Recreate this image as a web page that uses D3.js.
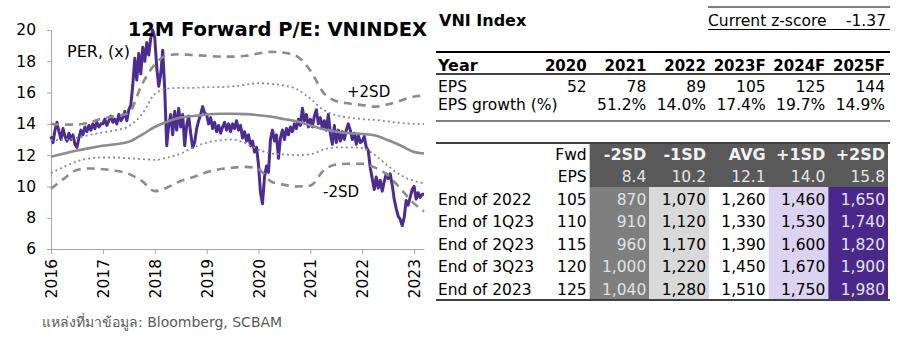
<!DOCTYPE html>
<html>
<head>
<meta charset="utf-8">
<script src="https://cdn.jsdelivr.net/npm/d3@7"></script>
<style>
  body { margin: 0; background: #fff; }
  svg text { font-family: "DejaVu Sans", Tahoma, sans-serif; }
</style>
</head>
<body>
<svg id="chart" width="900" height="340"></svg>
<script>
// ── Data: 12M forward P/E, roughly two readings per month ─────────────────
const per2016 = [13.2, 12.8, 13.6, 14.1, 13.5, 13.0, 13.7, 13.2, 12.9, 13.4, 13.0, 13.3, 12.7,
  12.5, 13.1, 13.6, 13.3, 13.8, 13.5, 13.9, 13.6, 14.0, 13.7, 14.1, 13.8, 14.0];
const per2017 = [14.0, 14.3, 13.9, 14.2, 14.5, 14.1, 14.3, 14.0, 14.6, 14.2, 14.4, 14.8, 14.2,
  14.9, 15.2, 16.5, 18.2, 16.8, 18.5, 17.2, 18.9, 18.0, 19.2, 18.4, 19.5, 20.0];
const per2018 = [19.5, 17.6, 16.4, 17.2, 18.7, 16.2, 12.6, 13.9, 14.6, 13.3, 14.8, 13.6, 15.0,
  13.8, 14.6, 12.6, 13.9, 14.5, 13.4, 12.5, 12.8, 13.7, 14.2, 14.6, 15.1, 14.7];
const per2019 = [14.6, 14.0, 14.4, 13.7, 14.1, 13.5, 13.9, 13.4, 13.8, 14.1, 13.6, 14.0, 13.5,
  14.0, 13.7, 14.2, 13.6, 13.9, 13.1, 13.5, 12.9, 13.3, 12.6, 12.9, 12.2, 12.5];
const per2020 = [11.4, 9.6, 8.9, 10.6, 11.3, 10.9, 13.0, 13.6, 12.9, 13.3, 11.8, 13.1, 13.6,
  13.0, 13.7, 13.3, 13.8, 13.5, 14.0, 13.7, 14.3, 13.9, 15.0, 14.2, 14.6, 13.8];
const per2021 = [14.3, 13.8, 14.5, 14.9, 14.0, 14.4, 13.7, 14.2, 13.6, 14.6, 13.4, 12.7, 13.9,
  12.8, 13.6, 12.9, 13.5, 13.0, 13.6, 14.0, 13.6, 13.0, 13.4, 12.7, 13.3, 12.8];
const per2022 = [12.9, 13.2, 12.5, 12.3, 11.2, 10.5, 9.8, 10.6, 9.9, 10.4, 9.7, 10.3, 10.8,
  10.5, 10.8, 10.1, 9.2, 8.6, 8.1, 7.9, 7.5, 8.0, 9.1, 8.8, 9.3, 9.8];
const per2023 = [10.0, 9.2, 9.6, 9.3, 9.5, 9.5];
const perYears = [
  [2016, per2016], [2017, per2017], [2018, per2018], [2019, per2019],
  [2020, per2020], [2021, per2021], [2022, per2022], [2023, per2023],
];

// ── Rolling mean and SD bands, quarterly ──────────────────────────────────
const bandDates = [2016, 2016.25, 2016.5, 2016.75, 2017, 2017.25, 2017.5, 2017.75,
  2018, 2018.25, 2018.5, 2018.75, 2019, 2019.25, 2019.5, 2019.75,
  2020, 2020.25, 2020.5, 2020.75, 2021, 2021.25, 2021.5, 2021.75,
  2022, 2022.25, 2022.5, 2022.75, 2023, 2023.19];
const avgPE = [11.9, 12.1, 12.3, 12.45, 12.6, 12.7, 12.85, 13.3, 13.8, 14.15, 14.4, 14.5,
  14.6, 14.65, 14.65, 14.62, 14.55, 14.45, 14.3, 14.15, 13.9, 13.65, 13.5, 13.4,
  13.35, 13.25, 12.95, 12.6, 12.2, 12.1];
const plus2SD = [14.0, 13.95, 13.95, 14.1, 14.35, 14.5, 14.7, 16.5, 17.8, 18.4, 18.45, 18.4,
  18.35, 18.3, 18.3, 18.35, 18.5, 18.6, 18.55, 18.3, 17.4, 16.0, 15.45, 15.3,
  15.2, 15.1, 15.25, 15.5, 15.75, 15.8];
const plus1SD = [12.95, 13.0, 13.1, 13.3, 13.45, 13.6, 13.85, 14.6, 15.9, 16.25, 16.3, 16.3,
  16.35, 16.35, 16.4, 16.5, 16.6, 16.55, 16.45, 16.2, 15.6, 14.9, 14.55, 14.4,
  14.3, 14.25, 14.15, 14.05, 14.0, 14.0];
const minus1SD = [10.85, 11.25, 11.6, 11.8, 11.85, 11.85, 11.8, 11.75, 11.7, 11.85, 12.1, 12.5,
  12.8, 12.95, 13.0, 12.75, 12.35, 12.1, 12.05, 12.0, 12.05, 12.35, 12.5, 12.5,
  12.45, 12.0, 11.3, 10.7, 10.35, 10.2];
const minus2SD = [9.85, 10.5, 11.05, 11.15, 11.1, 11.0, 10.8, 10.35, 9.7, 9.95, 10.35, 10.6,
  10.9, 11.1, 11.2, 11.25, 11.1, 10.3, 10.1, 10.0, 10.05, 11.0, 11.4, 11.45,
  11.45, 11.2, 10.7, 9.8, 8.9, 8.4];

const yTicks = [6, 8, 10, 12, 14, 16, 18, 20];
const xTicks = [2016, 2017, 2018, 2019, 2020, 2021, 2022, 2023];

// ── Tables ────────────────────────────────────────────────────────────────
const zScore = -1.37;
const years = ["2020", "2021", "2022", "2023F", "2024F", "2025F"];
const eps = [52, 78, 89, 105, 125, 144];
const epsGrowth = [null, 51.2, 14.0, 17.4, 19.7, 14.9];

const bandNames = ["-2SD", "-1SD", "AVG", "+1SD", "+2SD"];
const bandPE = [8.4, 10.2, 12.1, 14.0, 15.8];
const periods = ["End of 2022", "End of 1Q23", "End of 2Q23", "End of 3Q23", "End of 2023"];
const fwdEps = [105, 110, 115, 120, 125];
const targets = [
  [870, 1070, 1260, 1460, 1650],
  [910, 1120, 1330, 1530, 1740],
  [960, 1170, 1390, 1600, 1820],
  [1000, 1220, 1450, 1670, 1900],
  [1040, 1280, 1510, 1750, 1980],
];

// cell colours per band column
const CELL_FILL = ["#7f7f7f", "#d9d9d9", "#ffffff", "#dcd3f0", "#48288a"];
const CELL_TEXT = ["#e2e2e2", "#000", "#000", "#000", "#e8e3f4"];

const svg = d3.select("#chart");

// ── Chart ─────────────────────────────────────────────────────────────────
const x = d3.scaleLinear().domain([2016, 2023.19]).range([51, 424]);
const y = d3.scaleLinear().domain([6, 20]).range([249, 30]);

const perPoints = perYears.flatMap(([yr, vals]) =>
  vals.map((v, i) => ({ t: yr + i / 26, v })),
);

// axes
const xAxis = svg.append("g")
  .attr("transform", `translate(0,${y(6)})`)
  .call(d3.axisBottom(x).tickValues(xTicks).tickFormat(d3.format("d")).tickSize(5).tickSizeOuter(0));
xAxis.select(".domain").attr("stroke", "#a6a6a6");
xAxis.selectAll(".tick line").attr("stroke", "#a6a6a6");
xAxis.selectAll(".tick text")
  .attr("font-size", 15.5)
  .attr("fill", "#000")
  .attr("transform", "rotate(-90)")
  .attr("text-anchor", "end")
  .attr("x", -10)
  .attr("y", 0)
  .attr("dy", "0.36em");

const yAxis = svg.append("g")
  .attr("transform", `translate(${x(2016)},0)`)
  .call(d3.axisLeft(y).tickValues(yTicks).tickSize(4).tickSizeOuter(0));
yAxis.select(".domain").attr("stroke", "#a6a6a6");
yAxis.selectAll(".tick line").attr("stroke", "#a6a6a6");
yAxis.selectAll(".tick text").attr("font-size", 15.5).attr("fill", "#000").attr("x", -15);

// P/E line
const perLine = d3.line().x((d) => x(d.t)).y((d) => y(d.v));
svg.append("path")
  .datum(perPoints)
  .attr("fill", "none")
  .attr("stroke", "#4b2c91")
  .attr("stroke-width", 3)
  .attr("stroke-linejoin", "round")
  .attr("d", perLine);

// mean and SD bands on top
const bandLine = d3.line()
  .x((d, i) => x(bandDates[i]))
  .y((d) => y(d))
  .curve(d3.curveMonotoneX);

const bands = [
  { vals: plus2SD, width: 2.6, dash: "8,6" },
  { vals: minus2SD, width: 2.6, dash: "8,6" },
  { vals: plus1SD, width: 1.8, dash: "2,3" },
  { vals: minus1SD, width: 1.8, dash: "2,3" },
  { vals: avgPE, width: 2.6, dash: null },
];
bands.forEach((b) => {
  svg.append("path")
    .datum(b.vals)
    .attr("fill", "none")
    .attr("stroke", "#8c8c8c")
    .attr("stroke-width", b.width)
    .attr("stroke-dasharray", b.dash)
    .attr("d", bandLine);
});

// chart labels
svg.append("text").attr("x", 427).attr("y", 36).attr("text-anchor", "end")
  .attr("font-size", 19.5).attr("font-weight", "bold").text("12M Forward P/E: VNINDEX");
svg.append("text").attr("x", 67).attr("y", 57).attr("font-size", 16).text("PER, (x)");
svg.append("text").attr("x", 347).attr("y", 97).attr("font-size", 15).text("+2SD");
svg.append("text").attr("x", 323).attr("y", 197).attr("font-size", 15).text("-2SD");
svg.append("text").attr("x", 42).attr("y", 327).attr("font-size", 14).attr("fill", "#595959")
  .text("แหล่งที่มาข้อมูล: Bloomberg, SCBAM");

// ── Tables ────────────────────────────────────────────────────────────────
const FS = 15.5;
const fmt = d3.format(",");
const hline = (x1, x2, yy, w, c) =>
  svg.append("line").attr("x1", x1).attr("x2", x2).attr("y1", yy).attr("y2", yy)
    .attr("stroke", c).attr("stroke-width", w);

// title + z-score
svg.append("text").attr("x", 439).attr("y", 26).attr("font-size", 16).attr("font-weight", "bold")
  .text("VNI Index");
hline(708, 890, 7, 1.2, "#000");
hline(708, 890, 29.5, 1.2, "#000");
svg.append("text").attr("x", 708).attr("y", 26).attr("font-size", FS).text("Current z-score");
svg.append("text").attr("x", 886).attr("y", 26).attr("font-size", FS).attr("text-anchor", "end")
  .text(zScore.toFixed(2));

// EPS table
const col1 = d3.scaleBand().domain(years).range([530, 888]);
hline(436, 890, 52, 2.2, "#000");
hline(436, 890, 74, 1.6, "#000");
hline(436, 890, 121, 2.2, "#808080");
svg.append("text").attr("x", 438).attr("y", 71).attr("font-size", 16).attr("font-weight", "bold").text("Year");
svg.append("text").attr("x", 438).attr("y", 92).attr("font-size", FS).text("EPS");
svg.append("text").attr("x", 438).attr("y", 110).attr("font-size", FS).text("EPS growth (%)");
years.forEach((yr, i) => {
  const xr = col1(yr) + col1.bandwidth() - 3;
  svg.append("text").attr("x", xr).attr("y", 71).attr("text-anchor", "end")
    .attr("font-size", 15).attr("font-weight", "bold").text(yr);
  svg.append("text").attr("x", xr).attr("y", 92).attr("text-anchor", "end")
    .attr("font-size", FS).text(eps[i]);
  if (epsGrowth[i] != null) {
    svg.append("text").attr("x", xr).attr("y", 110).attr("text-anchor", "end")
      .attr("font-size", FS).text(epsGrowth[i].toFixed(1) + "%");
  }
});

// valuation table
const col2 = d3.scaleBand().domain(["Fwd"].concat(bandNames)).range([530, 888]);
const rows = d3.scaleBand().domain(periods).range([187, 300]);

svg.append("rect").attr("x", col2("-2SD")).attr("y", 144)
  .attr("width", 888 - col2("-2SD")).attr("height", 43).attr("fill", "#595959");
bandNames.forEach((b, j) => {
  svg.append("rect").attr("x", col2(b)).attr("y", 187)
    .attr("width", col2.bandwidth()).attr("height", 112).attr("fill", CELL_FILL[j]);
});
hline(436, 890, 143, 1.6, "#000");
hline(436, 890, 300, 1.6, "#000");

const rx = (k) => col2(k) + col2.bandwidth() - 3;
svg.append("text").attr("x", rx("Fwd")).attr("y", 160).attr("text-anchor", "end").attr("font-size", FS).text("Fwd");
svg.append("text").attr("x", rx("Fwd")).attr("y", 182).attr("text-anchor", "end").attr("font-size", FS).text("EPS");
bandNames.forEach((b, j) => {
  svg.append("text").attr("x", rx(b)).attr("y", 160).attr("text-anchor", "end")
    .attr("font-size", 16).attr("font-weight", "bold").attr("fill", "#f2f2f2").text(b);
  svg.append("text").attr("x", rx(b)).attr("y", 182).attr("text-anchor", "end")
    .attr("font-size", FS).attr("fill", "#e6e6e6").text(bandPE[j].toFixed(1));
});

periods.forEach((p, i) => {
  const yy = rows(p) + 17.5;
  svg.append("text").attr("x", 438).attr("y", yy).attr("font-size", FS).text(p);
  svg.append("text").attr("x", rx("Fwd")).attr("y", yy).attr("text-anchor", "end")
    .attr("font-size", FS).text(fwdEps[i]);
  bandNames.forEach((b, j) => {
    svg.append("text").attr("x", rx(b)).attr("y", yy).attr("text-anchor", "end")
      .attr("font-size", FS).attr("fill", CELL_TEXT[j]).text(fmt(targets[i][j]));
  });
});
</script>
</body>
</html>
